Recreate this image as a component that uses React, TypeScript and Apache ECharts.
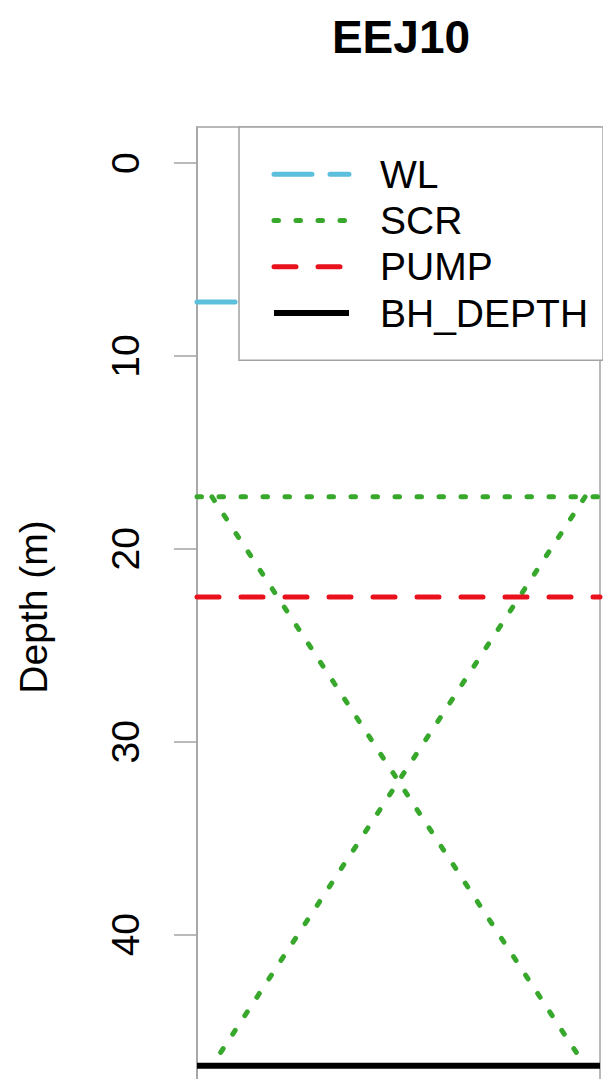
import React, { useEffect, useRef } from "react";
import * as echarts from "echarts";

const title = "EEJ10";
const seriesNames = ["WL", "SCR", "PUMP", "BH_DEPTH"];
const depthTicks = [0, 10, 20, 30, 40];
const wlDepth = 7.2;
const scrTop = 17.3;
const pumpDepth = 22.5;
const bhDepth = 46.8;
const xUsr = [-0.04, 1.04];
const screenX = [0, 1];
const yUsr = [-1.87, 49.04];

const FONT = "Liberation Sans, Arial, sans-serif";
const GRAY = "#a3a3a3";

const styles: Record<string, any> = {
  WL: { color: "#5cbfdb", width: 5, type: [38, 18], cap: "round" },
  SCR: { color: "#38a82c", width: 5, type: [4.5, 17.5], cap: "round" },
  PUMP: { color: "#e8111c", width: 5, type: [22, 22], cap: "round" },
  BH_DEPTH: { color: "#000000", width: 6, type: "solid", cap: "butt" },
};

export default function App() {
  const ref = useRef<HTMLDivElement>(null);
  useEffect(() => {
    if (!ref.current) return;
    const chart = echarts.init(ref.current, null, { renderer: "svg" });
    const hLine = (y: number) => [
      [xUsr[0], y],
      [xUsr[1], y],
    ];
    const base = { type: "line", symbol: "none", showSymbol: false, silent: true, z: 2 };
    chart.setOption({
      animation: false,
      backgroundColor: "#ffffff",
      title: {
        text: title,
        left: 396,
        top: 9,
        textAlign: "center",
        textStyle: { fontSize: 46, fontWeight: "bold", color: "#000", fontFamily: FONT },
      },
      legend: {
        orient: "vertical",
        left: 239,
        top: 127,
        padding: [24, 15, 24, 32],
        itemGap: 0,
        itemWidth: 75,
        itemHeight: 20,
        backgroundColor: "#ffffff",
        borderColor: GRAY,
        borderWidth: 1.5,
        borderRadius: 0,
        selectedMode: false,
        itemStyle: { opacity: 0 },
        data: seriesNames.map((n) => ({
          name: n,
          itemStyle: { opacity: 0 },
          lineStyle: { ...styles[n] },
        })),
        textStyle: {
          fontSize: 39,
          fontFamily: FONT,
          color: "#000",
          lineHeight: 46.3,
          padding: [0, 0, 0, 26],
        },
        z: 10,
      },
      grid: {
        left: 197,
        right: 3,
        top: 127,
        bottom: -30,
        outerBoundsMode: "none",
        containLabel: false,
        show: true,
        borderColor: GRAY,
        borderWidth: 1.5,
        backgroundColor: "transparent",
      },
      xAxis: {
        type: "value",
        min: xUsr[0],
        max: xUsr[1],
        show: false,
      },
      yAxis: {
        type: "value",
        inverse: true,
        min: yUsr[0],
        max: yUsr[1],
        name: "Depth (m)",
        nameLocation: "middle",
        nameGap: 144,
        nameRotate: 90,
        nameTextStyle: { fontSize: 39, fontFamily: FONT, color: "#000", padding: [0, 0, 0, 22] },
        axisLine: { show: true, onZero: false, lineStyle: { color: GRAY, width: 1.5 } },
        axisTick: {
          show: true,
          length: 23,
          customValues: depthTicks,
          lineStyle: { color: GRAY, width: 1.5 },
        },
        axisLabel: {
          show: true,
          rotate: 90,
          margin: 52,
          fontSize: 39,
          fontFamily: FONT,
          color: "#000",
          customValues: depthTicks,
        },
        splitLine: { show: false },
      },
      series: [
        { ...base, name: "WL", data: hLine(wlDepth), lineStyle: styles.WL },
        { ...base, name: "SCR", data: hLine(scrTop), lineStyle: styles.SCR },
        {
          ...base,
          name: "SCR",
          data: [
            [screenX[0], scrTop],
            [screenX[1], bhDepth],
          ],
          lineStyle: styles.SCR,
        },
        {
          ...base,
          name: "SCR",
          data: [
            [screenX[1], scrTop],
            [screenX[0], bhDepth],
          ],
          lineStyle: styles.SCR,
        },
        { ...base, name: "PUMP", data: hLine(pumpDepth), lineStyle: styles.PUMP },
        { ...base, name: "BH_DEPTH", data: hLine(bhDepth), lineStyle: styles.BH_DEPTH },
      ],
    });
    return () => chart.dispose();
  }, []);
  return (
    <div
      ref={ref}
      style={{ position: "absolute", left: 0, top: 0, width: 603, height: 1079 }}
    />
  );
}
